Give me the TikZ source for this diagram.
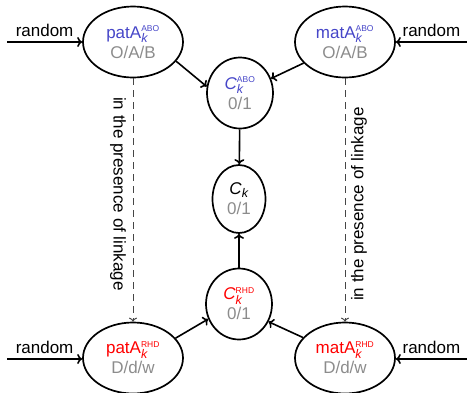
\documentclass[tikz,border=0pt]{standalone}
\usepackage{fontspec}
\setmainfont{Liberation Sans}
\usetikzlibrary{shapes.geometric,arrows.meta}
\definecolor{abo}{RGB}{70,70,200}
\definecolor{rhd}{RGB}{255,0,0}
\definecolor{vals}{RGB}{140,140,140}
\definecolor{linkc}{RGB}{70,70,70}
% locus label: superscript system name, subscript italic k
\newcommand\locidx[1]{$\mathsurround=0pt^{\mbox{\fontsize{8.5}{9}\selectfont #1}}_{\mbox{\fontsize{12.5}{13}\selectfont\itshape k}}$}
\newcommand\onlyk{$\mathsurround=0pt_{\mbox{\fontsize{12.5}{13}\selectfont\itshape k}}$}
\tikzset{
  base/.style={font=\fontsize{17}{20}\selectfont},
  var/.style={base, draw, ellipse, line width=1.7pt, inner sep=0pt, align=center},
  parent/.style={var, minimum width=100pt, minimum height=71pt},
  child/.style={var, minimum width=66pt, minimum height=71pt},
  flow/.style={-{To[length=5pt,width=10pt]}, line width=1.6pt},
  linkarrow/.style={-{To[length=4pt,width=8pt]}, linkc, line width=1pt, dash pattern=on 7pt off 5pt},
  lbl/.style={base, inner sep=0pt},
}
\begin{document}
\begin{tikzpicture}[x=1pt, y=-1pt]
\useasboundingbox (0,0) rectangle (467,392);

% parental alleles
\node[parent] (patABO) at (133,42) {\textcolor{abo}{patA\locidx{ABO}}\\[0pt]\textcolor{vals}{O/A/B}};
\node[parent] (matABO) at (345,42) {\textcolor{abo}{matA\locidx{ABO}}\\[0pt]\textcolor{vals}{O/A/B}};
\node[parent] (patRHD) at (133,358) {\textcolor{rhd}{patA\locidx{RHD}}\\[0pt]\textcolor{vals}{D/d/w}};
\node[parent] (matRHD) at (345,358) {\textcolor{rhd}{matA\locidx{RHD}}\\[0pt]\textcolor{vals}{D/d/w}};

% compatibility indicators
\node[child] (CABO) at (240,93) {\textcolor{abo}{\textit{C}\locidx{ABO}}\\[0pt]\textcolor{vals}{0/1}};
\node[child] (CRHD) at (239,304) {\textcolor{rhd}{\textit{C}\locidx{RHD}}\\[0pt]\textcolor{vals}{0/1}};
\node[var, minimum width=53pt, minimum height=68pt] (Ck) at (239,199) {\textit{C}\onlyk\\[0pt]\textcolor{vals}{0/1}};

% random inputs
\coordinate (inTL) at (7,42);
\coordinate (inTR) at (467,42);
\coordinate (inBL) at (7,359);
\coordinate (inBR) at (467,359);
\draw[flow] (inTL) -- (patABO.west) node[lbl, midway, above=5pt] (rTL) {random};
\draw[flow] (inTR) -- (matABO.east) node[lbl, midway, above=5pt] (rTR) {random};
\draw[flow] (inBL) -- (patRHD.west |- inBL) node[lbl, midway, above=5pt] (rBL) {random};
\draw[flow] (inBR) -- (matRHD.east |- inBR) node[lbl, midway, above=5pt] (rBR) {random};

% inheritance to indicators
\draw[flow] (patABO.-24) -- (CABO.169);
\draw[flow] (matABO.-153) -- (CABO.25);
\draw[flow] (patRHD.25) -- (CRHD.-154);
\draw[flow] (matRHD.154) -- (CRHD.-31);
\draw[flow] (CABO) -- (Ck);
\draw[flow] (CRHD) -- (Ck);

% linkage
\draw[linkarrow] (patABO) -- (patRHD);
\draw[linkarrow] (matABO) -- (matRHD);
\node[lbl, rotate=-90] (linkL) at (118,194) {in the presence of linkage};
\node[lbl, rotate=90] (linkR) at (359,204) {in the presence of linkage};
\end{tikzpicture}
\end{document}
